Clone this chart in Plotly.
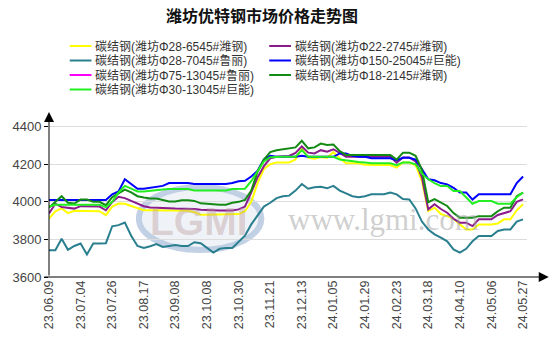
import plotly.graph_objects as go

# ---------------- data ----------------
tick_labels = ["23.06.09", "23.07.04", "23.07.26", "23.08.17", "23.09.08", "23.10.08",
               "23.10.30", "23.11.21", "23.12.13", "24.01.05", "24.01.29", "24.02.23",
               "24.03.18", "24.04.10", "24.05.06", "24.05.27"]
points_per_tick = 15
sample_step = 3
x_idx = list(range(0, 226, sample_step))

names = ["碳结钢(潍坊Φ28-6545#潍钢)", "碳结钢(潍坊Φ22-2745#潍钢)",
         "碳结钢(潍坊Φ28-7045#鲁丽)", "碳结钢(潍坊Φ150-25045#巨能)",
         "碳结钢(潍坊Φ75-13045#鲁丽)", "碳结钢(潍坊Φ18-2145#潍钢)",
         "碳结钢(潍坊Φ30-13045#巨能)"]
colors = ["#FFFF00", "#8B1A8B", "#2A7F8F", "#0000FF", "#FF00FF", "#138A13", "#22EE22"]

yellow = [3911, 3950, 3965, 3940, 3952, 3952, 3952, 3952, 3950, 3929,
          3975, 3991, 3990, 3978, 3965, 3955, 3955, 3955, 3952, 3952,
          3952, 3952, 3952, 3945, 3931, 3931, 3931, 3931, 3931, 3931,
          3935, 3950, 4000, 4100, 4175, 4200, 4210, 4210, 4210, 4225,
          4285, 4235, 4230, 4238, 4235, 4265, 4232, 4205, 4205, 4205,
          4198, 4196, 4196, 4196, 4196, 4182, 4209, 4209, 4195, 4110,
          3951, 3969, 3935, 3924, 3910, 3880, 3853, 3853, 3880, 3880,
          3880, 3885, 3907, 3907, 3955, 3987]
purple = [3938, 3990, 3973, 3968, 3964, 3977, 3977, 3977, 3975, 3955,
          4000, 4027, 4020, 4005, 3990, 3977, 3970, 3970, 3966, 3966,
          3964, 3964, 3964, 3962, 3958, 3956, 3954, 3954, 3954, 3954,
          3960, 3975, 4050, 4130, 4190, 4232, 4240, 4244, 4244, 4260,
          4295, 4262, 4258, 4275, 4267, 4280, 4258, 4240, 4240, 4240,
          4240, 4240, 4240, 4240, 4240, 4208, 4236, 4236, 4215, 4130,
          3960, 3987, 3962, 3942, 3910, 3889, 3889, 3871, 3907, 3907,
          3907, 3930, 3942, 3950, 4000, 4013]
teal = [3742, 3742, 3804, 3745, 3765, 3778, 3720, 3778, 3778, 3780,
        3870, 3876, 3890, 3820, 3765, 3755, 3764, 3775, 3760, 3765,
        3770, 3765, 3765, 3785, 3780, 3755, 3730, 3750, 3755, 3755,
        3790, 3820, 3880, 3930, 3975, 3995, 4020, 4030, 4033, 4060,
        4095, 4070, 4078, 4080, 4072, 4085, 4060, 4045, 4030, 4025,
        4030, 4040, 4040, 4040, 4050, 4040, 4015, 4013, 3965, 3895,
        3853, 3827, 3809, 3790, 3747, 3730, 3750, 3790, 3818, 3818,
        3818, 3845, 3853, 3853, 3895, 3907]
blue = [4010, 4010, 4010, 4010, 4010, 4010, 4010, 4010, 4010, 4010,
        4040, 4055, 4120, 4095, 4070, 4070, 4075, 4080, 4085, 4100,
        4100, 4100, 4100, 4095, 4095, 4095, 4095, 4095, 4095, 4100,
        4110, 4112, 4135, 4165, 4225, 4245, 4240, 4240, 4240, 4240,
        4245, 4240, 4240, 4240, 4240, 4240, 4258, 4258, 4245, 4240,
        4240, 4232, 4232, 4232, 4232, 4222, 4235, 4235, 4225, 4175,
        4120, 4115, 4100, 4093, 4075, 4050, 4050, 4012, 4040, 4040,
        4040, 4040, 4040, 4040, 4100, 4135]
magenta = [None] * len(x_idx)
darkgreen = [3970, 4000, 4030, 3995, 3991, 4012, 4012, 4000, 4000, 3982,
             4025, 4045, 4065, 4050, 4030, 4023, 4018, 4018, 4008, 4002,
             4002, 4008, 4008, 4005, 3992, 3990, 3985, 3985, 3985, 3995,
             4000, 4010, 4060, 4160, 4225, 4265, 4275, 4280, 4282, 4290,
             4325, 4285, 4290, 4310, 4303, 4305, 4270, 4250, 4250, 4250,
             4250, 4250, 4250, 4250, 4250, 4225, 4262, 4262, 4245, 4170,
             3998, 4015, 3996, 3978, 3940, 3916, 3916, 3915, 3924, 3924,
             3924, 3950, 3969, 3969, 4030, 4049]
lime = [3975, 3985, 3985, 3985, 3985, 3985, 3985, 3985, 3985, 3972,
        4000, 4050, 4085, 4070, 4055, 4055, 4060, 4062, 4066, 4068,
        4068, 4068, 4068, 4060, 4060, 4060, 4060, 4060, 4060, 4068,
        4068, 4070, 4110, 4160, 4215, 4238, 4240, 4240, 4240, 4240,
        4275, 4240, 4240, 4240, 4240, 4240, 4225, 4220, 4215, 4212,
        4210, 4205, 4205, 4205, 4205, 4195, 4210, 4210, 4200, 4150,
        4120, 4100, 4084, 4084, 4058, 4058, 4022, 3990, 4004, 4004,
        4004, 3990, 3990, 3990, 4025, 4050]
series = [yellow, purple, teal, blue, magenta, darkgreen, lime]

y_ticks = [3600, 3800, 4000, 4200, 4400]

# ---------------- layout geometry ----------------
W, H = 554, 351
ML, MR, MT, MB = 43, 27, 113, 74
PW, PH = W - ML - MR, H - MT - MB
px_per_idx = 32 / points_per_tick
y_lo = 3600
y_hi = 3600 + PH * 800 / 150.3


def pxx(px):
    return (px - ML) / PW


def pxy(py):
    return (H - MB - py) / PH


fig = go.Figure()
for name, color, vals in zip(names, colors, series):
    fig.add_trace(go.Scatter(x=x_idx, y=vals, mode="lines", name=name,
                             line=dict(color=color, width=2), showlegend=False,
                             connectgaps=False))

tickvals = [k * points_per_tick for k in range(len(tick_labels))]

fig.update_layout(
    width=W, height=H,
    margin=dict(l=ML, r=MR, t=MT, b=MB),
    paper_bgcolor="white", plot_bgcolor="white",
    title=dict(text="<b>潍坊优特钢市场价格走势图</b>", x=262 / W, xanchor="center",
               y=1 - 16 / H, yanchor="middle", yref="container",
               font=dict(family="Noto Sans CJK SC", size=16, color="#111")),
    xaxis=dict(range=[0, PW / px_per_idx], tickvals=tickvals, ticktext=tick_labels,
               tickangle=-90, showgrid=False, zeroline=False, showline=False,
               ticks="", tickfont=dict(family="Liberation Sans, Arial", size=12.5, color="#444")),
    yaxis=dict(range=[y_lo, y_hi], tickvals=y_ticks, showgrid=True, gridcolor="#dcdcdc",
               gridwidth=1, zeroline=False, showline=False, ticks="outside", ticklen=4,
               tickcolor="#000",
               tickfont=dict(family="Liberation Sans, Arial", size=13, color="#444")),
    showlegend=False,
)

shapes = []
annotations = []

# watermark logo
shapes.append(dict(type="circle", xref="paper", yref="paper", layer="below",
                   x0=pxx(134), x1=pxx(258), y0=pxy(250), y1=pxy(187),
                   line=dict(color="rgba(180,198,222,0.8)", width=6),
                   fillcolor="rgba(236,241,247,0.85)"))
annotations.append(dict(xref="paper", yref="paper", x=pxx(194), y=pxy(221),
                        xanchor="center", yanchor="middle",
                        text="<b>LGMI</b>", showarrow=False,
                        font=dict(family="Liberation Sans, Arial", size=39,
                                  color="rgba(185,150,150,0.4)")))
annotations.append(dict(xref="paper", yref="paper", x=pxx(382), y=pxy(219),
                        xanchor="center", yanchor="middle",
                        text="www.lgmi.com", showarrow=False,
                        font=dict(family="Liberation Serif, Times New Roman", size=31,
                                  color="rgba(160,160,160,0.5)")))

# axis arrows
annotations.append(dict(xref="paper", yref="paper", x=pxx(549), y=0,
                        axref="pixel", ayref="pixel", ax=-(549 - ML), ay=0,
                        showarrow=True, arrowhead=2, arrowsize=2, arrowwidth=1,
                        arrowcolor="#000", text="", standoff=0))
annotations.append(dict(xref="paper", yref="paper", x=0, y=pxy(112),
                        axref="pixel", ayref="pixel", ax=0, ay=(H - MB - 112),
                        showarrow=True, arrowhead=2, arrowsize=2, arrowwidth=1,
                        arrowcolor="#000", text="", standoff=0))

# legend (two columns, row-major)
for j, (name, color) in enumerate(zip(names, colors)):
    col, row = j % 2, j // 2
    lx0 = 64 + 202 * col
    ly = 46 + 14.5 * row
    shapes.append(dict(type="line", xref="paper", yref="paper",
                       x0=pxx(lx0), x1=pxx(lx0 + 22), y0=pxy(ly), y1=pxy(ly),
                       line=dict(color=color, width=2)))
    annotations.append(dict(xref="paper", yref="paper", x=pxx(lx0 + 24), y=pxy(ly),
                            xanchor="left", yanchor="middle", text=name, showarrow=False,
                            font=dict(family="Liberation Sans, Noto Sans CJK SC",
                                      size=12, color="#333")))

fig.update_layout(shapes=shapes, annotations=annotations)
fig.write_html("out.html")
